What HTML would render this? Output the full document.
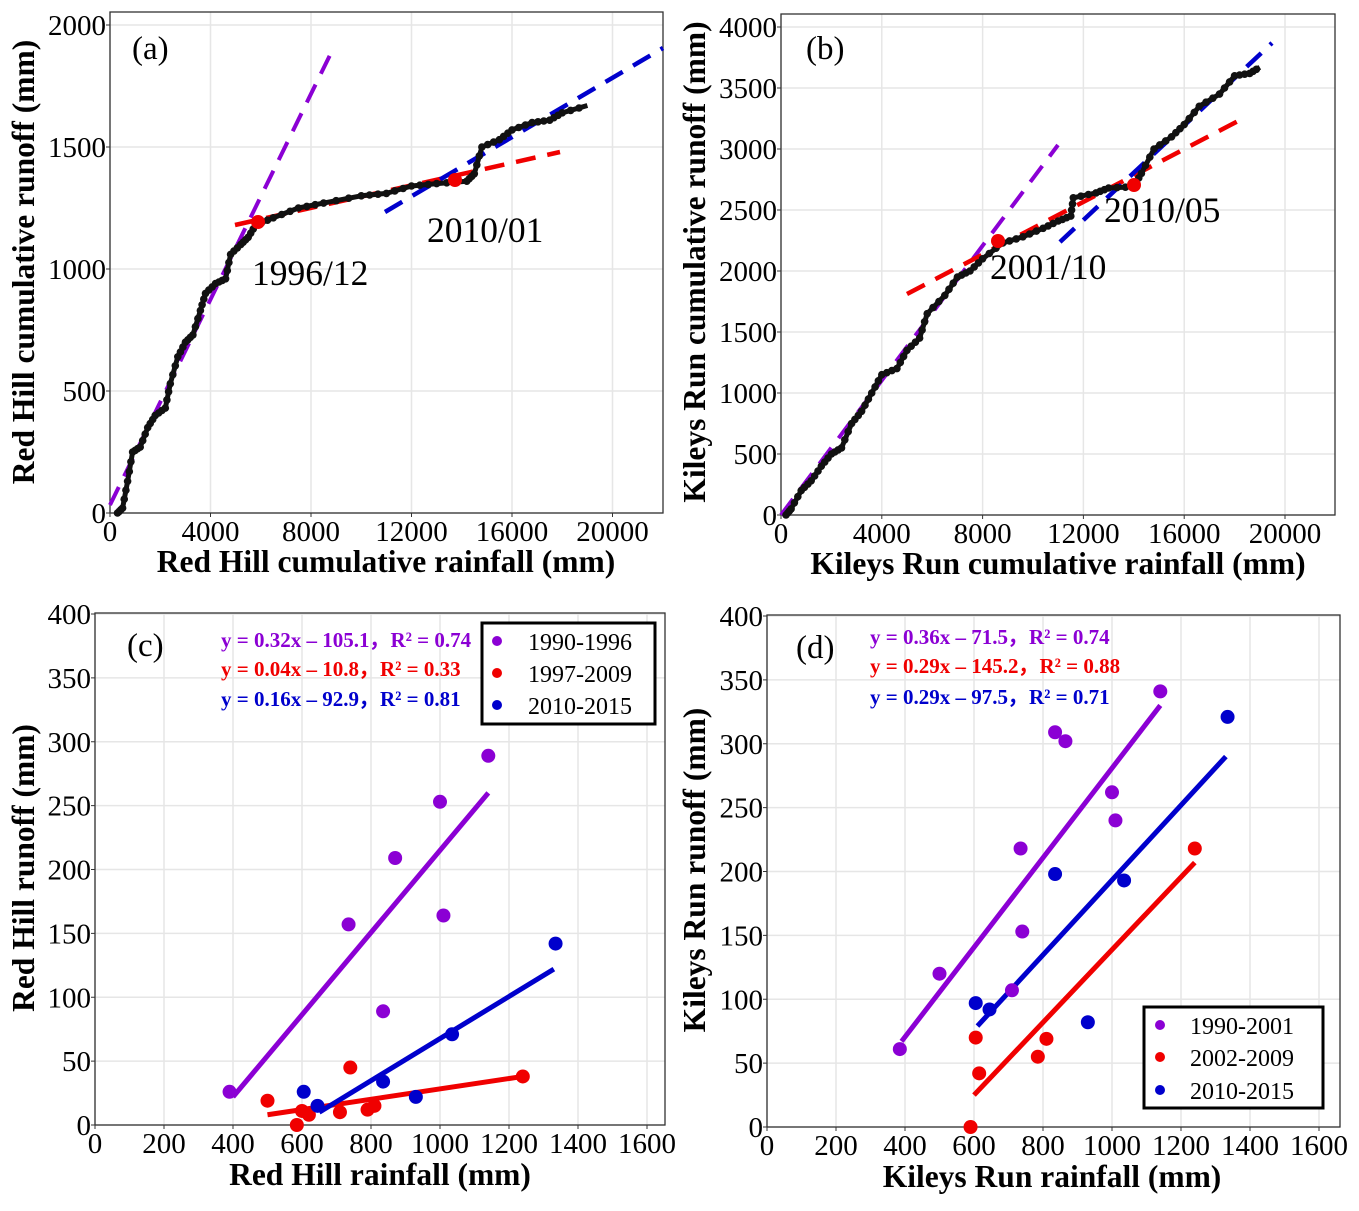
<!DOCTYPE html>
<html><head><meta charset="utf-8"><style>
html,body{margin:0;padding:0;background:#fff}
svg,svg text{font-family:"Liberation Serif","Times New Roman",serif}
</style></head><body>
<svg id="s" width="1359" height="1206" xmlns="http://www.w3.org/2000/svg" font-family="Liberation Serif, serif"></svg>
<script>
var S=document.getElementById('s'),out='';
function add(t){out+=t;}
var FF=' font-family="Liberation Serif, serif"';
function panel(p){
 var sx=function(v){return p.x0+(v-p.xmin)*p.xs;}, sy=function(v){return p.y0-(v)*p.ys;};
 p.sx=sx;p.sy=sy;
 p.xt.forEach(function(v){var x=sx(v);add('<line x1="'+x+'" y1="'+p.T+'" x2="'+x+'" y2="'+p.B+'" stroke="#e6e6e6" stroke-width="1.5"/>');});
 p.yt.forEach(function(v){var y=sy(v);add('<line x1="'+p.L+'" y1="'+y+'" x2="'+p.R+'" y2="'+y+'" stroke="#e6e6e6" stroke-width="1.5"/>');});
 add('<rect x="'+p.L+'" y="'+p.T+'" width="'+(p.R-p.L)+'" height="'+(p.B-p.T)+'" fill="none" stroke="#333" stroke-width="1.3"/>');
 p.xt.forEach(function(v){var x=sx(v);add('<line x1="'+x+'" y1="'+p.B+'" x2="'+x+'" y2="'+(p.B+4)+'" stroke="#333"/><text'+FF+' x="'+x+'" y="'+(p.B+28)+'" font-size="29" text-anchor="middle">'+v+'</text>');});
 p.yt.forEach(function(v){var y=sy(v);add('<line x1="'+(p.L-4)+'" y1="'+y+'" x2="'+p.L+'" y2="'+y+'" stroke="#333"/><text'+FF+' x="'+(p.L-4)+'" y="'+(y+10)+'" font-size="29" text-anchor="end">'+v+'</text>');});
 add('<text'+FF+' x="'+p.xlx+'" y="'+p.xly+'" font-size="31.5" font-weight="bold" text-anchor="middle">'+p.xl+'</text>');
 add('<text'+FF+' transform="translate('+p.ylx+','+p.yly+') rotate(-90)" font-size="31.5" font-weight="bold" text-anchor="middle">'+p.yl+'</text>');
 add('<text'+FF+' x="'+p.tx+'" y="'+p.ty+'" font-size="33">'+p.tag+'</text>');
}
function curve(p,d){
 var pts=d.map(function(a){return p.sx(a[0]).toFixed(1)+','+p.sy(a[1]).toFixed(1);});
 add('<polyline points="'+pts.join(' ')+'" fill="none" stroke="#111" stroke-width="5" stroke-linejoin="round"/>');
 for(var i=0;i<d.length-1;i++){for(var k=0;k<3;k++){var t=k/3;var x=p.sx(d[i][0]+(d[i+1][0]-d[i][0])*t),y=p.sy(d[i][1]+(d[i+1][1]-d[i][1])*t);add('<circle cx="'+x.toFixed(1)+'" cy="'+y.toFixed(1)+'" r="3.8" fill="#111"/>');}}
}
function dash(x1,y1,x2,y2,c,w){add('<line x1="'+x1+'" y1="'+y1+'" x2="'+x2+'" y2="'+y2+'" stroke="'+c+'" stroke-width="'+(w||4.5)+'" stroke-dasharray="20,12"/>');}
var PU='#8b00d4',RE='#f00000',BL='#0000cc';
var A={L:110,R:663,T:12,B:513,x0:110,xmin:0,xs:100.5/4000,y0:513,ys:0.244,xt:[0,4000,8000,12000,16000,20000],yt:[0,500,1000,1500,2000],xl:'Red Hill cumulative rainfall (mm)',xlx:386,xly:572,yl:'Red Hill cumulative runoff (mm)',ylx:34,yly:262,tag:'(a)',tx:132,ty:59};
panel(A);
dash(110,505,331,53,PU,4);dash(235,225,560,152,RE);dash(385,212,663,48,BL);
curve(A,[[300,0],[500,20],[700,130],[900,250],[1200,270],[1500,350],[1800,400],[2200,430],[2400,530],[2700,640],[3000,700],[3300,730],[3600,830],[3800,900],[4200,940],[4600,960],[4800,1060],[5200,1100],[5500,1130],[5800,1180],[6500,1210],[7500,1250],[8500,1270],[10000,1300],[11000,1310],[12000,1340],[13000,1350],[14200,1360],[14500,1390],[14800,1500],[15500,1530],[16000,1570],[16800,1600],[17500,1610],[18000,1640],[19000,1670]]);
add('<circle cx="258" cy="222" r="7" fill="'+RE+'"/><circle cx="455" cy="180" r="7" fill="'+RE+'"/>');
add('<text'+FF+' x="252" y="285" font-size="35.5">1996/12</text><text'+FF+' x="427" y="242" font-size="35.5">2010/01</text>');
var B={L:781,R:1335,T:14,B:515,x0:781,xmin:0,xs:100.8/4000,y0:515,ys:0.122,xt:[0,4000,8000,12000,16000,20000],yt:[0,500,1000,1500,2000,2500,3000,3500,4000],xl:'Kileys Run cumulative rainfall (mm)',xlx:1058,xly:574,yl:'Kileys Run cumulative runoff (mm)',ylx:705,yly:262,tag:'(b)',tx:806,ty:59};
panel(B);
dash(781,515,1058,145,PU,4);dash(907,294,1240,120,RE);dash(1060,242,1272,43,BL);
curve(B,[[200,0],[400,50],[800,200],[1200,280],[1600,400],[2000,500],[2400,550],[2800,750],[3200,850],[3600,1000],[4000,1150],[4600,1200],[5000,1350],[5500,1450],[5800,1650],[6500,1800],[7000,1950],[7500,2000],[8000,2100],[8800,2230],[9600,2280],[10400,2350],[11000,2410],[11500,2450],[11600,2600],[12500,2640],[13000,2680],[14000,2690],[14300,2800],[14800,3000],[15500,3100],[16000,3200],[16600,3350],[17400,3450],[18000,3600],[18600,3620],[19000,3670]]);
add('<circle cx="998" cy="241" r="7" fill="'+RE+'"/><circle cx="1134" cy="185" r="7" fill="'+RE+'"/>');
add('<text'+FF+' x="990" y="279" font-size="35.5">2001/10</text><text'+FF+' x="1104" y="222" font-size="35.5">2010/05</text>');
function scat(p,pts,c){pts.forEach(function(a){add('<circle cx="'+p.sx(a[0])+'" cy="'+p.sy(a[1])+'" r="7" fill="'+c+'"/>');});}
function sline(p,a,b,c){add('<line x1="'+p.sx(a[0])+'" y1="'+p.sy(a[1])+'" x2="'+p.sx(b[0])+'" y2="'+p.sy(b[1])+'" stroke="'+c+'" stroke-width="5"/>');}
var C={L:95,R:665,T:613,B:1125,x0:95,xmin:0,xs:69/200,y0:1125,ys:511/400,xt:[0,200,400,600,800,1000,1200,1400,1600],yt:[0,50,100,150,200,250,300,350,400],xl:'Red Hill rainfall (mm)',xlx:380,xly:1185,yl:'Red Hill runoff (mm)',ylx:34,yly:868,tag:'(c)',tx:127,ty:656};
panel(C);
sline(C,[400,22],[1140,260],PU);sline(C,[500,8],[1240,38],RE);sline(C,[650,10],[1330,122],BL);
scat(C,[[390,26],[735,157],[870,209],[1000,253],[1010,164],[835,89],[1140,289]],PU);
scat(C,[[500,19],[600,11],[620,8],[585,0],[710,10],[740,45],[790,12],[810,15],[1240,38]],RE);
scat(C,[[605,26],[645,15],[835,34],[930,22],[1035,71],[1335,142]],BL);
add('<g'+FF+' font-size="21" font-weight="bold"><text x="221" y="647" fill="'+PU+'">y = 0.32x – 105.1，R² = 0.74</text><text x="221" y="676" fill="'+RE+'">y = 0.04x – 10.8，R² = 0.33</text><text x="221" y="706" fill="'+BL+'">y = 0.16x – 92.9，R² = 0.81</text></g>');
add('<rect x="482" y="623" width="173" height="101" fill="#fff" stroke="#000" stroke-width="3"/>');
add('<circle cx="497" cy="641" r="5" fill="'+PU+'"/><circle cx="497" cy="673" r="5" fill="'+RE+'"/><circle cx="497" cy="705" r="5" fill="'+BL+'"/>');
add('<g'+FF+' font-size="24"><text x="528" y="650">1990-1996</text><text x="528" y="682">1997-2009</text><text x="528" y="714">2010-2015</text></g>');
var D={L:767,R:1340,T:615,B:1127,x0:767,xmin:0,xs:69/200,y0:1127,ys:511/400,xt:[0,200,400,600,800,1000,1200,1400,1600],yt:[0,50,100,150,200,250,300,350,400],xl:'Kileys Run rainfall (mm)',xlx:1052,xly:1187,yl:'Kileys Run runoff (mm)',ylx:705,yly:870,tag:'(d)',tx:796,ty:658};
panel(D);
sline(D,[390,67],[1140,330],PU);sline(D,[600,25],[1240,207],RE);sline(D,[610,79],[1330,290],BL);
scat(D,[[385,61],[500,120],[710,107],[735,218],[740,153],[835,309],[865,302],[1000,262],[1010,240],[1140,341]],PU);
scat(D,[[590,0],[605,70],[615,42],[785,55],[810,69],[1240,218]],RE);
scat(D,[[605,97],[645,92],[835,198],[930,82],[1035,193],[1335,321]],BL);
add('<g'+FF+' font-size="21" font-weight="bold"><text x="870" y="644" fill="'+PU+'">y = 0.36x – 71.5，R² = 0.74</text><text x="870" y="673" fill="'+RE+'">y = 0.29x – 145.2，R² = 0.88</text><text x="870" y="704" fill="'+BL+'">y = 0.29x – 97.5，R² = 0.71</text></g>');
add('<rect x="1144" y="1007" width="179" height="101" fill="#fff" stroke="#000" stroke-width="3"/>');
add('<circle cx="1160" cy="1025" r="5" fill="'+PU+'"/><circle cx="1160" cy="1057" r="5" fill="'+RE+'"/><circle cx="1160" cy="1090" r="5" fill="'+BL+'"/>');
add('<g'+FF+' font-size="24"><text x="1190" y="1034">1990-2001</text><text x="1190" y="1066">2002-2009</text><text x="1190" y="1099">2010-2015</text></g>');
S.innerHTML=out;
</script>
</body></html>
